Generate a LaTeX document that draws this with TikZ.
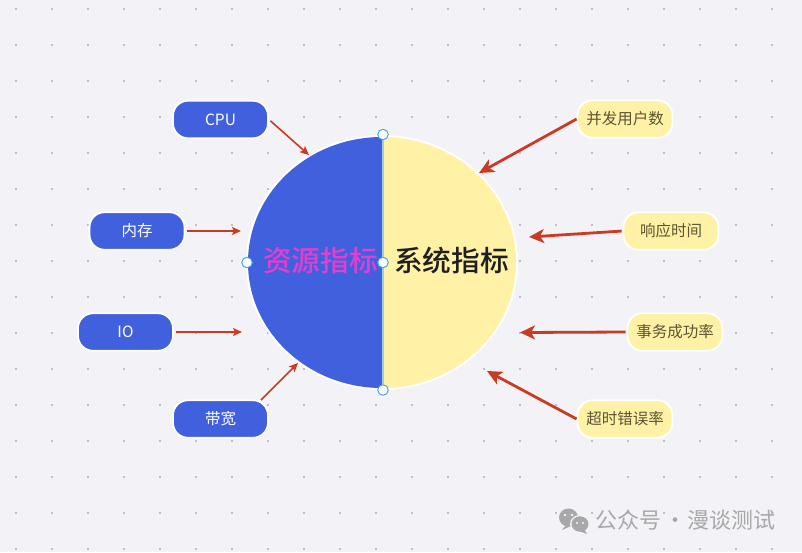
\documentclass[tikz,border=0pt]{standalone}
\usepackage{fontspec}
\setmainfont[BoldFont={Noto Sans CJK SC Medium}]{Noto Sans CJK SC}
\usetikzlibrary{arrows.meta}
\definecolor{bgc}{HTML}{F3F3F7}
\definecolor{dotc}{HTML}{BFBFC6}
\definecolor{bluec}{HTML}{4160DD}
\definecolor{yelc}{HTML}{FFF2A6}
\definecolor{redc}{HTML}{CB3A22}
\definecolor{magc}{HTML}{E23FD0}
\definecolor{handlec}{HTML}{4AA3F0}
\definecolor{linec}{HTML}{9CCBF5}
\definecolor{yeltext}{HTML}{5C5434}
\definecolor{wmc}{HTML}{A8A8AB}
\tikzset{
  pill/.style={rounded corners=15pt,draw=white,line width=1.8pt,minimum width=95pt,minimum height=37.5pt,inner sep=0pt,font=\fontsize{15.5}{18}\selectfont},
  bluepill/.style={pill,fill=bluec,text=white},
  yelpill/.style={pill,fill=yelc,text=yeltext},
  thinarrow/.style={draw=redc,line width=1.6pt,-{Stealth[length=9pt,width=8pt,inset=2pt]}},
  thickarrow/.style={draw=redc,line width=2.8pt,-{Stealth[length=15pt,width=14pt,inset=4pt]}},
  handle/.style={circle,draw=handlec,fill=white,line width=1pt,minimum size=10.5pt,inner sep=0pt},
  bigtext/.style={inner sep=0pt,font=\fontsize{28.7}{32}\selectfont\bfseries},
}
\begin{document}
\begin{tikzpicture}[x=1pt,y=-1pt]
\path[use as bounding box,fill=bgc] (0,0) rectangle (802,552);
% dot grid
\foreach \i in {0,...,21}{\foreach \j in {0,...,15}{
  \fill[dotc] ({16+36*\i-1},{9+36*\j-1}) rectangle ++(2.2,2.2);
}}
% circle
\fill[white] (382,262.5) ellipse [x radius=136,y radius=127.5];
\begin{scope}
  \clip (240,120) rectangle (382.2,400);
  \fill[bluec] (382,262.5) ellipse [x radius=134,y radius=125.5];
\end{scope}
\begin{scope}
  \clip (382.2,120) rectangle (530,400);
  \fill[yelc] (382,262.5) ellipse [x radius=134,y radius=125.5];
\end{scope}
\node[handle] (ht) at (383,134.5) {};
\node[handle] (hb) at (383,390) {};
\node[handle] (hl) at (247,262.5) {};
\node[handle] (hc) at (383,262.5) {};
\draw[linec,line width=1.4pt] (ht) -- (hc);
\draw[linec,line width=1.4pt] (hc) -- (hb);
\node[bigtext,text=magc] (res) at (320.5,261) {资源指标};
\node[bigtext,text=black!88] (sys) at (451.5,261) {系统指标};
% left pills
\node[bluepill] (cpu) at (220.5,119.5) {CPU};
\node[bluepill] (mem) at (137,231) {内存};
\node[bluepill] (io)  at (125.5,332) {IO};
\node[bluepill] (bw)  at (220.5,419) {带宽};
% right pills
\node[yelpill] (usr) at (625,119) {并发用户数};
\node[yelpill] (rsp) at (671,231) {响应时间};
\node[yelpill] (tps) at (675,332) {事务成功率};
\node[yelpill] (err) at (625,419) {超时错误率};
% arrow ends
\coordinate (tcpu) at (309,155);
\coordinate (tmem) at (241,231);
\coordinate (tio)  at (242,332);
\coordinate (tbw)  at (298,363);
\coordinate (sbw)  at (261,400);
\coordinate (tusr) at (479,173);
\coordinate (trsp) at (529,237);
\coordinate (ttps) at (520,332.5);
\coordinate (terr) at (487,371);
\draw[thinarrow,shorten <=2pt] (cpu.east) -- (tcpu);
\draw[thinarrow,shorten <=2pt] (mem.east) -- (tmem);
\draw[thinarrow,shorten <=2pt] (io.east) -- (tio);
\draw[thinarrow] (sbw) -- (tbw);
\draw[thickarrow] (usr.west) -- (tusr);
\draw[thickarrow,shorten <=1pt] (rsp.west) -- (trsp);
\draw[thickarrow,shorten <=1pt] (tps.west) -- (ttps);
\draw[thickarrow] (err.west) -- (terr);
% watermark
\fill[wmc] (568.5,517.5) ellipse [x radius=9.5,y radius=9];
\fill[wmc] (566,525) -- (562,530) -- (571,526) -- cycle;
\fill[bgc] (580,524) ellipse [x radius=10,y radius=9];
\fill[wmc] (580,524) ellipse [x radius=8.5,y radius=7.7];
\fill[wmc] (584,529) -- (587,534) -- (579,531) -- cycle;
\fill[bgc] (565,515) circle (1.4);
\fill[bgc] (572,515) circle (1.4);
\fill[bgc] (577,523) circle (1.2);
\fill[bgc] (583,523) circle (1.2);
\node[inner sep=0pt,text=wmc,font=\fontsize{22}{24}\selectfont,anchor=west] (wm) at (595.5,520) {公众号\hspace{-2pt} · \hspace{-4pt}漫谈测试};
\end{tikzpicture}
\end{document}
